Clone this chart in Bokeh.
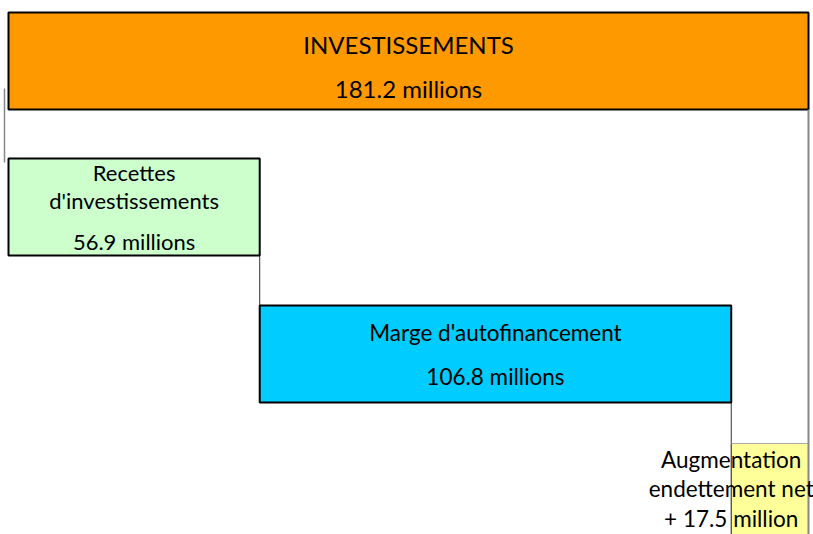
from bokeh.plotting import figure
from bokeh.models import Range1d, ColumnDataSource
from bokeh.core.properties import value
from bokeh.embed import file_html
from bokeh.resources import INLINE

# ---- data ----
categories = ["INVESTISSEMENTS", "Recettes d'investissements", "Marge d'autofinancement", "Augmentation endettement net"]
amounts = [181.2, 56.9, 106.8, 17.5]
title_lines = [["INVESTISSEMENTS"], ["Recettes", "d'investissements"], ["Marge d'autofinancement"], ["Augmentation", "endettement net"]]
value_labels = ["181.2 millions", "56.9 millions", "106.8 millions", "+ 17.5 million"]

# ---- styles / layout ----
fills = ["#FF9900", "#CCFFCC", "#00CCFF", "#FFFF99"]
borders = ["black", "black", "black", "#AAAAAA"]
border_w = [2, 2, 2, 1]
row_top = [12, 158, 305, 443]
row_h = 97
font = "Lato"

# waterfall starts: total bar from 0, components stacked cumulatively
starts = [0.0]
acc = 0.0
for a in amounts[1:]:
    starts.append(acc)
    acc += a
ends = [s + a for s, a in zip(starts, amounts)]

W, H = 813, 534
scale = 800 / amounts[0]   # px per unit
x0 = -8 / scale
p = figure(width=W, height=H, output_backend="svg", toolbar_location=None,
           x_range=Range1d(x0, x0 + W / scale), y_range=Range1d(H, 0),
           min_border=0, outline_line_color=None)
p.axis.visible = False
p.grid.visible = False
p.background_fill_color = "white"

src = ColumnDataSource(dict(left=starts, right=ends,
                            top=row_top, bottom=[t + row_h for t in row_top],
                            fill=fills, line=borders, lw=border_w))

# connectors
p.segment(x0=[starts[0] - 4 / scale], y0=[88], x1=[starts[0] - 4 / scale], y1=[row_top[1] + 4],
          line_color="#888888", line_width=1.5)
p.segment(x0=[ends[1], ends[2]], y0=[row_top[1] + row_h, row_top[2] + row_h],
          x1=[ends[1], ends[2]], y1=[row_top[2], row_top[3]],
          line_color="#333333", line_width=1)

p.quad(left="left", right="right", top="top", bottom="bottom", source=src,
       fill_color="fill", line_color="line", line_width="lw")

p.segment(x0=[ends[0]], y0=[row_top[0] + row_h], x1=[ends[0]], y1=[H + 10],
          line_color="#888888", line_width=2)
p.segment(x0=[ends[2]], y0=[row_top[3]], x1=[ends[2]], y1=[H + 10],
          line_color="#333333", line_width=1)

# text
def put(txt, x, y, size):
    p.text(x=[x], y=[y], text=[txt], text_align="center", text_baseline="middle",
           text_font=value(font), text_font_size=size, text_color="black")

mid = [(s + e) / 2 for s, e in zip(starts, ends)]
put(title_lines[0][0], mid[0], 44, "24px")
put(value_labels[0], mid[0], 88, "24px")
put(title_lines[1][0], mid[1], 172, "22px")
put(title_lines[1][1], mid[1], 200, "22px")
put(value_labels[1], mid[1], 241, "22px")
put(title_lines[2][0], mid[2], 332, "22.5px")
put(value_labels[2], mid[2], 376, "22.5px")
put(title_lines[3][0], starts[3], 459, "22.5px")
put(title_lines[3][1], starts[3], 488, "22.5px")
put(value_labels[3], starts[3], 518, "22.5px")

open("out.html", "w").write(file_html(p, INLINE))
